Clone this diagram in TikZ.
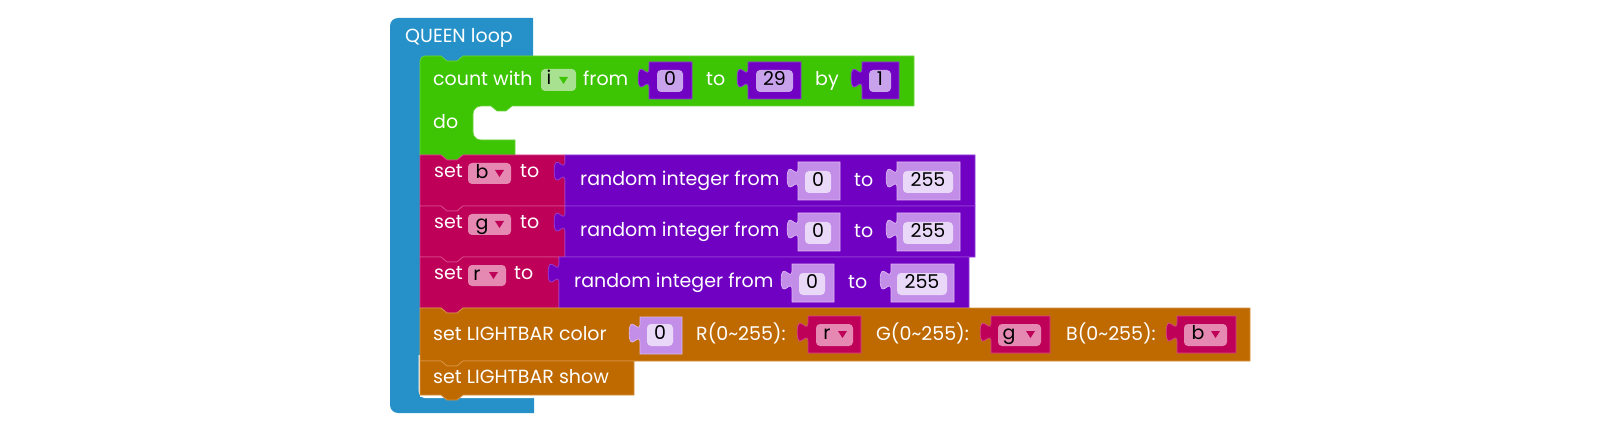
\documentclass[tikz,border=0pt]{standalone}
\usepackage{fontspec}
\setmainfont{Poppins}
\definecolor{qblue}{HTML}{2591C8}
\definecolor{qgreen}{HTML}{3DC402}
\definecolor{qgreenedge}{HTML}{6CD43C}
\definecolor{qgreenlt}{HTML}{A8E291}
\definecolor{qpurple}{HTML}{7000C2}
\definecolor{qpurpleedge}{HTML}{9440D8}
\definecolor{qpurplelt}{HTML}{C28EE8}
\definecolor{qpurpleltedge}{HTML}{D9B8F3}
\definecolor{qlav}{HTML}{C9A2EC}
\definecolor{qlav2}{HTML}{E9D8F8}
\definecolor{qcrim}{HTML}{BF0058}
\definecolor{qcrimedge}{HTML}{D6468A}
\definecolor{qpink}{HTML}{E589B2}
\definecolor{qbrown}{HTML}{BF6A00}
\definecolor{qbrownedge}{HTML}{D8923F}
\newcommand{\stmtblk}[6]{\filldraw[fill=#5,draw=#6,line width=0.8pt] (#1,#2) -- (441,#2) -- (447,{#2+5}) -- (457,{#2+5}) -- (463,#2) -- (#3,#2) -- (#3,#4) -- (463,#4) -- (457,{#4+5}) -- (447,{#4+5}) -- (441,#4) -- (#1,#4) -- cycle;}
\newcommand{\valblk}[6]{\filldraw[fill=#5,draw=#6,line width=0.7pt] (#1,#2) -- (#3,#2) -- (#3,#4) -- (#1,#4) -- ({#1},{#2+26.25}) .. controls ({#1},{#2+12.75}) and ({#1-10.8},{#2+37}) .. ({#1-10.8},{#2+16.1}) .. controls ({#1-10.8},{#2-4.8}) and ({#1},{#2+19.5}) .. ({#1},{#2+6}) -- cycle;}
\newcommand{\inbox}[5]{\fill[#5, rounded corners=4pt] (#1,#2) rectangle (#3,#4);}
\newcommand{\ddtri}[3]{\fill[#3] (#1,#2) -- ({#1+9},#2) -- ({#1+4.5},{#2+7}) -- cycle;}
\begin{document}
\begin{tikzpicture}[x=1pt,y=-1pt,
  wt/.style={text=white, anchor=mid west, inner sep=0pt, yshift=-3pt, font=\fontsize{19}{22}\selectfont},
  bt/.style={text=black, anchor=mid, inner sep=0pt, yshift=-2pt, font=\fontsize{19}{22}\selectfont}]
\useasboundingbox (0,0) rectangle (1602,446);
\fill[white] (0,0) rectangle (1602,446);
% blue C block
\fill[qblue] (398,18) -- (533,18) -- (533,62) -- (420,62) -- (420,397) -- (534,397) -- (534,413) -- (398,413) .. controls (393.6,413) and (390,409.4) .. (390,405) -- (390,26) .. controls (390,21.6) and (393.6,18) .. (398,18) -- cycle;
\draw[white, line width=1.2pt] (419.3,355) -- (419.3,391) .. controls (419.3,394.5) and (422,397.6) .. (426,397.6) -- (534,397.6);
\node[wt] (q1) at (405,37) {QUEEN loop};
% green count block
\filldraw[fill=qgreen, draw=qgreenedge, line width=0.7pt] (425,56) -- (441,56) -- (447,61) -- (457,61) -- (463,56) -- (914,56) -- (914,106) -- (512,106) -- (506,111) -- (497,111) -- (491,106) -- (481,106) .. controls (476.6,106) and (473,109.6) .. (473,114) -- (473,132) .. controls (473,136.4) and (476.6,140) .. (481,140) -- (515,140) -- (515,155) -- (463,155) -- (457,160) -- (447,160) -- (441,155) -- (420,155) -- (420,61) .. controls (420,58.2) and (422.2,56) .. (425,56) -- cycle;
\node[wt] (c1) at (433,80) {count with};
\inbox{541}{69}{576}{91}{qgreenlt}
\node[bt] (ci) at (549,80) {i};
\ddtri{559}{77}{qgreen}
\node[wt] (c2) at (583,80) {from};
\valblk{649}{62}{692}{99}{qpurple}{qpurpleedge}
\inbox{657}{70}{683}{92}{qlav}
\node[bt] (cv1) at (670,81) {0};
\node[wt] (c3) at (706,80) {to};
\valblk{748}{62}{801}{99}{qpurple}{qpurpleedge}
\inbox{756}{70}{793}{92}{qlav}
\node[bt] (cv2) at (774.5,81) {29};
\node[wt] (c4) at (815,80) {by};
\valblk{862}{62}{899}{99}{qpurple}{qpurpleedge}
\inbox{869}{70}{891}{92}{qlav}
\node[bt] (cv3) at (880,81) {1};
\node[wt] (c5) at (433,123) {do};
% row 1
\stmtblk{420}{155}{565}{206}{qcrim}{qcrimedge}
\valblk{565}{155}{975}{206}{qpurple}{qpurpleedge}
\inbox{468}{163}{511}{184}{qpink}
\node[bt] (b1) at (482,173.5) {b};
\ddtri{495}{170}{qcrim}
\node[wt] (s1a) at (434,172) {set};
\node[wt] (s1b) at (520,172) {to};
\node[wt] (s1c) at (580,180) {random integer from};
\valblk{798}{162}{840}{200}{qpurplelt}{qpurpleltedge}
\inbox{805}{171}{831}{193}{qlav2}
\node[bt] (v1a) at (818,182) {0};
\node[wt] (s1d) at (854,181) {to};
\valblk{897}{162}{960}{200}{qpurplelt}{qpurpleltedge}
\inbox{903}{171}{953}{193}{qlav2}
\node[bt] (v1b) at (928,182) {255};
% row 2
\stmtblk{420}{206}{565}{257}{qcrim}{qcrimedge}
\valblk{565}{206}{975}{257}{qpurple}{qpurpleedge}
\inbox{468}{214}{511}{235}{qpink}
\node[bt] (b2) at (482,224.5) {g};
\ddtri{495}{221}{qcrim}
\node[wt] (s2a) at (434,223) {set};
\node[wt] (s2b) at (520,223) {to};
\node[wt] (s2c) at (580,231) {random integer from};
\valblk{798}{213}{840}{251}{qpurplelt}{qpurpleltedge}
\inbox{805}{222}{831}{244}{qlav2}
\node[bt] (v2a) at (818,233) {0};
\node[wt] (s2d) at (854,232) {to};
\valblk{897}{213}{960}{251}{qpurplelt}{qpurpleltedge}
\inbox{903}{222}{953}{244}{qlav2}
\node[bt] (v2b) at (928,233) {255};
% row 3
\stmtblk{420}{257}{559}{308}{qcrim}{qcrimedge}
\valblk{559}{257}{969}{308}{qpurple}{qpurpleedge}
\inbox{468}{265}{506}{286}{qpink}
\node[bt] (b3) at (477,275.5) {r};
\ddtri{489}{272}{qcrim}
\node[wt] (s3a) at (434,274) {set};
\node[wt] (s3b) at (514,274) {to};
\node[wt] (s3c) at (574,282) {random integer from};
\valblk{792}{264}{834}{302}{qpurplelt}{qpurpleltedge}
\inbox{799}{273}{825}{295}{qlav2}
\node[bt] (v3a) at (812,284) {0};
\node[wt] (s3d) at (848,283) {to};
\valblk{891}{264}{954}{302}{qpurplelt}{qpurpleltedge}
\inbox{897}{273}{947}{295}{qlav2}
\node[bt] (v3b) at (922,284) {255};
% lightbar color
\stmtblk{420}{308}{1250}{361}{qbrown}{qbrownedge}
\node[wt] (l1) at (433,335) {set LIGHTBAR color};
\valblk{640}{317}{682}{354}{qpurplelt}{qpurpleltedge}
\inbox{647}{324}{673}{346}{qlav2}
\node[bt] (lv0) at (660,335) {0};
\node[wt] (l2) at (696,335) {R(0\textasciitilde255):};
\valblk{808}{316}{861}{353}{qcrim}{qcrimedge}
\inbox{816}{324}{853}{346}{qpink}
\node[bt] (lr) at (827,335) {r};
\ddtri{838}{331}{qcrim}
\node[wt] (l3) at (876,335) {G(0\textasciitilde255):};
\valblk{991}{316}{1050}{353}{qcrim}{qcrimedge}
\inbox{998}{324}{1041}{346}{qpink}
\node[bt] (lg) at (1009,335) {g};
\ddtri{1026}{331}{qcrim}
\node[wt] (l4) at (1066,335) {B(0\textasciitilde255):};
\valblk{1177}{316}{1236}{353}{qcrim}{qcrimedge}
\inbox{1184}{324}{1227}{346}{qpink}
\node[bt] (lb) at (1198,335) {b};
\ddtri{1211}{331}{qcrim}
% lightbar show
\stmtblk{420}{361}{634}{395}{qbrown}{qbrownedge}
\node[wt] (l5) at (433,378) {set LIGHTBAR show};
\end{tikzpicture}
\end{document}
